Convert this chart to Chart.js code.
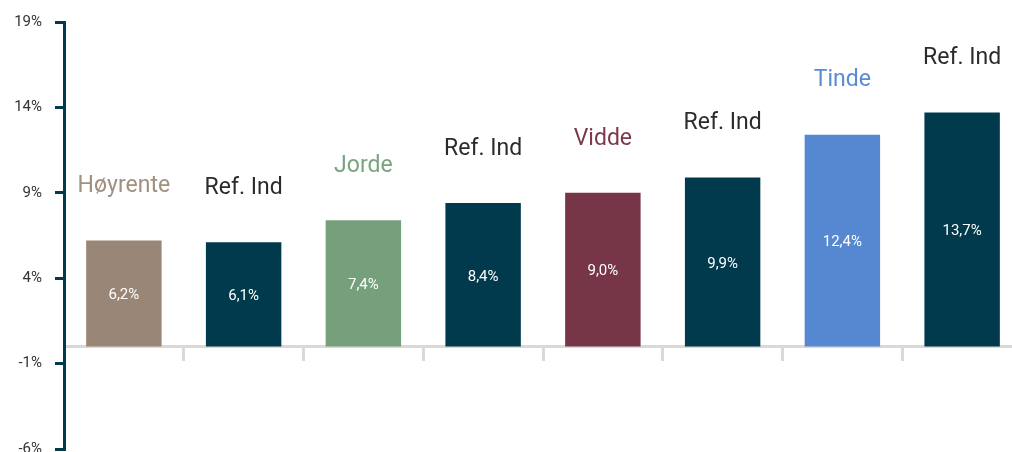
<!DOCTYPE html>
<html>
<head>
<meta charset="utf-8">
<script src="https://cdn.jsdelivr.net/npm/chart.js@4.4.1/dist/chart.umd.min.js"></script>
<style>
  html, body { margin: 0; padding: 0; background: #fff; overflow: hidden; }
  #ramme { width: 1022px; height: 452px; overflow: hidden; }
  #wrap { width: 1022px; height: 471px; }
</style>
</head>
<body>
<div id="ramme"><div id="wrap"><canvas id="grafico"></canvas></div></div>
<script>
const navn = ["Høyrente", "Ref. Ind", "Jorde", "Ref. Ind", "Vidde", "Ref. Ind", "Tinde", "Ref. Ind"];
const avkastning = [6.2, 6.1, 7.4, 8.4, 9.0, 9.9, 12.4, 13.7];
const barFarger = ["#9a8676", "#023a4d", "#76a07c", "#023a4d", "#763648", "#023a4d", "#5688d2", "#023a4d"];
const tekstFarger = ["#a09080", "#2b2b2b", "#7aa37f", "#2b2b2b", "#7a3a4b", "#2b2b2b", "#5a8bd4", "#2b2b2b"];
const yMin = -6, yMax = 19, ySteg = 5;

const fontNavn = "Roboto";

// Tegner navn over søylene og verdien inne i søylene
const etiketter = {
    id: "etiketter",
    afterDatasetsDraw(chart) {
        const ctx = chart.ctx;
        const meta = chart.getDatasetMeta(0);
        ctx.save();
        ctx.textAlign = "center";
        ctx.textBaseline = "middle";
        meta.data.forEach((bar, i) => {
            ctx.fillStyle = tekstFarger[i];
            ctx.font = "23px " + fontNavn;
            ctx.fillText(navn[i], bar.x, bar.y - 54);

            ctx.fillStyle = "#ffffff";
            ctx.font = "15px " + fontNavn;
            const tekst = avkastning[i].toFixed(1).replace(".", ",") + "%";
            ctx.fillText(tekst, bar.x, (bar.y + bar.base) / 2 + 2);
        });
        ctx.restore();
    }
};

const ctx = document.getElementById("grafico").getContext("2d");
new Chart(ctx, {
    type: "bar",
    data: {
        labels: navn,
        datasets: [{
            data: avkastning,
            backgroundColor: barFarger,
            borderWidth: 0,
            barPercentage: 0.63,
            categoryPercentage: 1
        }]
    },
    options: {
        responsive: true,
        maintainAspectRatio: false,
        animation: false,
        layout: { padding: { top: 20, bottom: 2, left: 0, right: 0 } },
        plugins: {
            legend: { display: false },
            tooltip: { enabled: false }
        },
        scales: {
            x: {
                position: { y: 0 },
                border: { color: "#d9d9d9", width: 3 },
                grid: {
                    drawOnChartArea: false,
                    drawTicks: true,
                    tickLength: 13,
                    lineWidth: 3,
                    color: (c) => (c.index === undefined || c.index === 0) ? "rgba(0,0,0,0)" : "#d9d9d9"
                },
                ticks: { display: false }
            },
            y: {
                min: yMin,
                max: yMax,
                border: { color: "#023a4d", width: 3 },
                grid: {
                    drawOnChartArea: false,
                    drawTicks: true,
                    tickLength: 9,
                    lineWidth: 3,
                    color: "#023a4d"
                },
                ticks: {
                    stepSize: ySteg,
                    padding: 13,
                    color: "#333333",
                    font: { family: fontNavn, size: 15 },
                    callback: (v) => v + "%"
                },
                afterFit: (scale) => { scale.width = 64; }
            }
        }
    },
    plugins: [etiketter]
});
</script>
</body>
</html>
